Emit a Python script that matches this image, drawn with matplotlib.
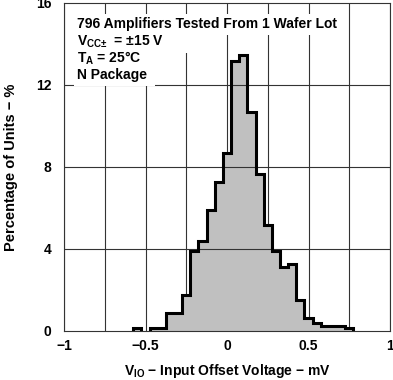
import numpy as np
import matplotlib
matplotlib.use("Agg")
import matplotlib.pyplot as plt
from matplotlib.ticker import MultipleLocator, FixedLocator, FixedFormatter

plt.rcParams['font.family'] = ['Liberation Sans', 'DejaVu Sans']
plt.rcParams['font.weight'] = 'bold'
plt.rcParams['mathtext.fontset'] = 'custom'
plt.rcParams['mathtext.rm'] = 'Liberation Sans:bold'
plt.rcParams['mathtext.it'] = 'Liberation Sans:bold'
plt.rcParams['mathtext.bf'] = 'Liberation Sans:bold'
plt.rcParams['mathtext.default'] = 'rm'

# Histogram data (bin centers in mV, percentage of units)
bin_centers = [-0.55, -0.50, -0.45, -0.40, -0.35, -0.30, -0.25, -0.20, -0.15,
               -0.10, -0.05, 0.00, 0.05, 0.10, 0.15, 0.20, 0.25, 0.30, 0.35,
               0.40, 0.45, 0.50, 0.55, 0.60, 0.65, 0.70, 0.75]
percent = [0.126, 0.0, 0.126, 0.126, 0.88, 0.88, 1.76, 3.89, 4.40,
           5.90, 7.29, 8.67, 13.19, 13.44, 10.68, 7.66, 5.15, 3.89, 3.14,
           3.27, 1.51, 0.63, 0.38, 0.25, 0.25, 0.25, 0.126]
bin_width = 0.05

x_ticks = [-1, -0.5, 0, 0.5, 1]
x_tick_labels = ["\u22121", "\u22120.5", "0", "0.5", "1"]
y_ticks = [0, 4, 8, 12, 16]
y_tick_labels = ["0", "4", "8", "12", "16"]

info_lines = ["796 Amplifiers Tested From 1 Wafer Lot",
              "V$_{\\mathrm{CC\u00b1}}$  = \u00b115 V",
              "T$_{\\mathrm{A}}$ = 25\u00b0C",
              "N Package"]
# extra white margin (in points) to the right of each line's backing box
box_extra = [0, 24, 6, 3]

fig = plt.figure(figsize=(3.93, 3.80), dpi=100)
ax = fig.add_axes([64/393, 49/380, 326/393, 328/380])

ax.set_xlim(-1, 1)
ax.set_ylim(0, 16)

centers = np.array(bin_centers)
vals = np.array(percent)
edges = np.concatenate([centers - bin_width/2, [centers[-1] + bin_width/2]])

# draw contiguous non-zero runs as separate stair outlines
nz = vals > 0
i = 0
n = len(vals)
while i < n:
    if not nz[i]:
        i += 1
        continue
    j = i
    while j < n and nz[j]:
        j += 1
    ax.stairs(vals[i:j], edges[i:j+1], fill=True, color='#c0c0c0', lw=0, zorder=2)
    ax.stairs(vals[i:j], edges[i:j+1], fill=False, color='black', lw=2.2, zorder=4)
    i = j

# grid: vertical behind fill, horizontal on top
ax.xaxis.set_major_locator(FixedLocator(x_ticks))
ax.xaxis.set_major_formatter(FixedFormatter(x_tick_labels))
ax.xaxis.set_minor_locator(MultipleLocator(0.25))
ax.yaxis.set_major_locator(FixedLocator(y_ticks))
ax.yaxis.set_major_formatter(FixedFormatter(y_tick_labels))
ax.set_axisbelow(True)
ax.grid(axis='x', which='both', color='#333333', lw=0.8, zorder=1)
for yv in y_ticks[1:-1]:
    ax.axhline(yv, color='#333333', lw=0.8, zorder=3)

ax.tick_params(axis='both', which='both', length=0, labelsize=10)
ax.tick_params(axis='x', pad=6)
ax.tick_params(axis='y', pad=9)
for s in ax.spines.values():
    s.set_color('#333333')
    s.set_linewidth(0.8)

ax.set_xlabel("V$_{\\mathrm{IO}}$ \u2212 Input Offset Voltage \u2212 mV", fontsize=10,
              fontweight='bold', labelpad=6)
ax.set_ylabel("Percentage of Units \u2212 %", fontsize=10.5, fontweight='bold', labelpad=13)

fig.canvas.draw()
renderer = fig.canvas.get_renderer()
ys = [0.935, 0.882, 0.830, 0.780]
for txt, yy, extra in zip(info_lines, ys, box_extra):
    t = ax.text(0.04, yy, txt, transform=ax.transAxes, fontsize=10, fontweight='bold',
                va='center', ha='left', zorder=6)
    bb = t.get_window_extent(renderer=renderer)
    pad_px = 2.5 * fig.dpi / 72
    ext_px = extra * fig.dpi / 72
    inv = ax.transAxes.inverted()
    (x0, y0) = inv.transform((bb.x0 - pad_px, bb.y0 - pad_px))
    (x1, y1) = inv.transform((bb.x1 + pad_px + ext_px, bb.y1 + pad_px))
    ax.add_patch(plt.Rectangle((x0, y0), x1 - x0, y1 - y0, transform=ax.transAxes,
                               facecolor='white', edgecolor='none', zorder=5))

fig.savefig("out.png", dpi=100)
